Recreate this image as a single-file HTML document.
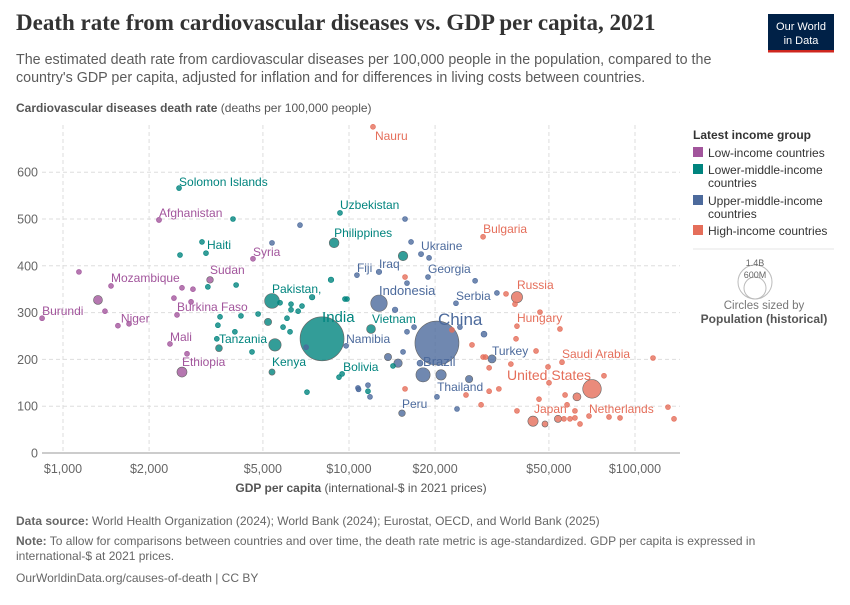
<!DOCTYPE html>
<html><head><meta charset="utf-8"><style>
body{margin:0;background:#fff;font-family:"Liberation Sans",sans-serif}
svg text{font-family:"Liberation Sans",sans-serif}
</style></head><body>
<svg id="c" width="850" height="600" viewBox="0 0 850 600" xmlns="http://www.w3.org/2000/svg">
<text x="16" y="30" font-family="Liberation Serif" font-weight="bold" font-size="23" fill="#333" style="font-family:'Liberation Serif',serif">Death rate from cardiovascular diseases vs. GDP per capita, 2021</text>
<text x="16" y="64" font-size="14.3" fill="#5b5b5b">The estimated death rate from cardiovascular diseases per 100,000 people in the population, compared to the</text>
<text x="16" y="82" font-size="14.3" fill="#5b5b5b">country's GDP per capita, adjusted for inflation and for differences in living costs between countries.</text>
<g>
<rect x="768" y="14" width="66" height="38" fill="#002147"/>
<rect x="768" y="50" width="66" height="2.5" fill="#ce261e"/>
<text x="801" y="30" font-size="11" fill="#fff" text-anchor="middle">Our World</text>
<text x="801" y="44" font-size="11" fill="#fff" text-anchor="middle">in Data</text>
</g>
<text x="16" y="112" font-size="12" fill="#555"><tspan font-weight="bold">Cardiovascular diseases death rate</tspan> (deaths per 100,000 people)</text>
<g id="grid"></g>
<g id="axes"></g>
<g id="pts"></g>
<g id="lbls"></g>
<text x="361" y="492" font-size="12" fill="#555" text-anchor="middle"><tspan font-weight="bold">GDP per capita</tspan> (international-$ in 2021 prices)</text>
<g>
<text x="693" y="139" font-size="12" font-weight="bold" fill="#333">Latest income group</text>
<g><rect x="693" y="147" width="10" height="10" fill="#a2559c"/><text x="708" y="157" font-size="12" fill="#333">Low-income countries</text></g>
<g><rect x="693" y="164" width="10" height="10" fill="#00847e"/><text x="708" y="174" font-size="12" fill="#333">Lower-middle-income</text><text x="708" y="187" font-size="12" fill="#333">countries</text></g>
<g><rect x="693" y="195" width="10" height="10" fill="#4c6a9c"/><text x="708" y="205" font-size="12" fill="#333">Upper-middle-income</text><text x="708" y="218" font-size="12" fill="#333">countries</text></g>
<g><rect x="693" y="225" width="10" height="10" fill="#e56e5a"/><text x="708" y="235" font-size="12" fill="#333">High-income countries</text></g>
<line x1="693" y1="249" x2="834" y2="249" stroke="#e6e6e6"/>
<g>
<circle cx="755" cy="282" r="17" fill="none" stroke="#bbb"/>
<circle cx="755" cy="288" r="11" fill="none" stroke="#bbb"/>
<text x="755" y="266" font-size="9" fill="#666" text-anchor="middle">1.4B</text>
<text x="755" y="278" font-size="9" fill="#666" text-anchor="middle">600M</text>
<text x="764" y="309" font-size="11.5" fill="#777" text-anchor="middle">Circles sized by</text>
<text x="764" y="323" font-size="12" font-weight="bold" fill="#555" text-anchor="middle">Population (historical)</text>
</g>
</g>
<text x="16" y="525" font-size="12" fill="#666"><tspan font-weight="bold">Data source:</tspan> World Health Organization (2024); World Bank (2024); Eurostat, OECD, and World Bank (2025)</text>
<text x="16" y="545" font-size="12" fill="#666"><tspan font-weight="bold">Note:</tspan> To allow for comparisons between countries and over time, the death rate metric is age-standardized. GDP per capita is expressed in</text>
<text x="16" y="560" font-size="12" fill="#666">international-$ at 2021 prices.</text>
<text x="16" y="582" font-size="12" fill="#666">OurWorldinData.org/causes-of-death | CC BY</text>
</svg>
<script>
const xTicks=[1000,2000,5000,10000,20000,50000,100000];
const xTickLabels=["$1,000","$2,000","$5,000","$10,000","$20,000","$50,000","$100,000"];
const yTicks=[0,100,200,300,400,500,600];
const names=["Burundi","Mozambique","Afghanistan","Niger","","","","Sudan","Mali","Ethiopia","Burkina Faso","Syria","","","","","","",
"Solomon Islands","","Haiti","","","Uzbekistan","Philippines","","Pakistan","","India","Tanzania","","Kenya","","","","","","","","","","","","","","","","","","","","Bolivia","","Vietnam","","","","","",
"China","Indonesia","Brazil","","","","Turkey","Thailand","","Peru","Iraq","Fiji","Ukraine","","","","","","Georgia","","","","Serbia","","","","","","","","Namibia","","","","","","",
"Nauru","Bulgaria","Russia","","","","Hungary","","","","Saudi Arabia","","","","United States","","","","","","Japan","","","","","","","","Netherlands","","","","","","","","","","","","","","","",""];
const gdp=[845,1472,2166,1556,1325,1137,1402,3266,2366,2606,2504,4616,2443,2606,2847,2804,1702,2714,
2545,3930,3162,3062,2565,9300,8870,8650,5380,7430,8050,3510,5510,5380,4030,3210,5210,4810,6070,6270,6270,6640,6850,5740,5880,6220,4580,3990,3450,3540,3480,4190,7130,9460,9227,11940,15450,14250,11650,9680,9840,
20300,12730,18150,20980,14840,13690,31620,26300,20300,15320,12730,10660,17860,19050,16480,15700,6740,5380,18890,15950,27600,32900,23660,14490,16880,15950,24430,29650,15450,17710,9770,10750,10800,11840,11650,23860,7080,
12130,29430,38660,35400,38050,46530,38660,54650,38370,45080,55560,115600,49640,77900,70740,62660,50040,56950,46170,57860,43990,48450,53790,56460,59240,61660,64230,61660,69050,81120,88640,130400,136900,38660,28960,25650,30900,33420,15700,30900,29430,30000,26920,36810,22910,15700];
const rate=[288,357,498,272,327,387,303,370,233,173,295,415,331,353,350,323,276,212,
566,500,427,451,423,513,449,370,325,333,244,224,231,173,359,355,280,297,288,318,306,303,314,321,269,259,216,259,244,291,273,293,130,169,162,265,421,186,132,329,329,
235,320,167,167,192,205,201,158,120,85,387,380,425,417,451,500,487,449,376,363,368,342,320,306,269,259,269,254,216,192,229,139,136,120,145,94,226,
697,462,333,340,318,301,271,265,244,218,194,203,184,165,137,120,150,124,115,103,68,62,73,73,73,75,62,90,79,77,75,98,73,90,103,124,132,137,137,182,205,205,231,190,263,376];
const pop=[12,32,40,25,100,10,15,60,22,120,22,21,8,8,8,8,8,8,
1,5,11,5,5,35,115,45,230,45,1410,64,170,54,8,8,70,30,30,8,8,8,8,8,8,8,8,8,8,8,8,8,8,12,8,98,110,8,8,8,8,
1410,275,214,127,90,70,85,72,8,60,44,1,40,8,8,8,8,8,4,8,8,8,7,45,8,8,8,50,8,50,3,8,8,8,8,8,8,
1,7,145,8,8,8,10,8,8,8,36,8,8,8,335,83,8,8,8,8,125,52,68,8,8,8,8,8,18,8,8,8,8,8,8,8,8,8,8,8,8,8,8,8,8,8];
const groupCounts=[["L",18],["M",41],["U",37],["H",46]];
const groups=[];
groupCounts.forEach(([g,n])=>{for(let k=0;k<n;k++)groups.push(g);});
const colors={L:"#a2559c",M:"#00847e",U:"#4c6a9c",H:"#e56e5a"};
const labelLayout={"Solomon Islands":[0,-2],"Afghanistan":[0,-3],"Haiti":[1,-4],"Syria":[0,-3],"Sudan":[0,-6],"Mozambique":[0,-4],"Burundi":[0,-3],"Niger":[3,-3],"Burkina Faso":[0,-4],"Mali":[0,-3],"Ethiopia":[0,-6],"Uzbekistan":[0,-4],"Philippines":[0,-6],"Pakistan":[0,-8,12,"Pakistan,"],"India":[0,-17,15],"Tanzania":[0,-5],"Kenya":[0,-6],"Vietnam":[1,-6],"Bolivia":[1,-3],"Namibia":[0,-3],"Fiji":[0,-3],"Iraq":[0,-4],"Ukraine":[0,-4],"Georgia":[0,-4],"Indonesia":[0,-8,13],"Serbia":[0,-3],"China":[1,-18,17],"Brazil":[0,-9,13],"Turkey":[0,-4],"Thailand":[-32,12],"Peru":[0,-5],"Nauru":[2,13],"Bulgaria":[0,-4],"Russia":[0,-8],"Hungary":[0,-4],"Saudi Arabia":[0,-4],"United States":[-85,-9,14],"Japan":[1,-8],"Netherlands":[0,-3]};
const X0=42,X1=680,Y0=453;
const xs=v=>63+286*Math.log10(v/1000);
const ys=v=>Y0-v*0.468;
const rs=p=>Math.max(2.5,22*Math.pow(p/1410,0.6));
const NS="http://www.w3.org/2000/svg";
function mk(tag,attrs,parent){const e=document.createElementNS(NS,tag);for(const k in attrs)e.setAttribute(k,attrs[k]);parent.appendChild(e);return e;}
const grid=document.getElementById('grid'),axes=document.getElementById('axes'),pts=document.getElementById('pts'),lbls=document.getElementById('lbls');
xTicks.forEach((t,i)=>{
  const l=mk('line',{x1:xs(t),x2:xs(t),y1:125,y2:Y0,stroke:"#ddd","stroke-dasharray":"4,3"},grid);
  
  
  const tx=mk('text',{x:xs(t),y:473,"font-size":12.5,fill:"#666","text-anchor":"middle"},axes);
  tx.textContent=xTickLabels[i];
  
  
});
yTicks.forEach(t=>{
  if(t>0){const l=mk('line',{x1:X0,x2:X1,y1:ys(t),y2:ys(t),stroke:"#ddd","stroke-dasharray":"4,3"},grid);
  
  }
  const tx=mk('text',{x:38,y:ys(t)+4.5,"font-size":12.5,fill:"#666","text-anchor":"end"},axes);
  tx.textContent=t;
  
  
});
const ax=mk('line',{x1:X0,x2:X1,y1:Y0,y2:Y0,stroke:"#999"},axes);


const order=gdp.map((_,i)=>i).sort((a,b)=>pop[b]-pop[a]);
order.forEach(i=>{
  const c=mk('circle',{cx:xs(gdp[i]),cy:ys(rate[i]),r:rs(pop[i]),fill:colors[groups[i]],"fill-opacity":0.8,stroke:colors[groups[i]],"stroke-width":0.6},pts);
  if(pop[i]>50)c.setAttribute('stroke','#666');
  
  
});
names.forEach((n,i)=>{
  if(!n||!labelLayout[n])return;
  const L=labelLayout[n];
  const t=mk('text',{x:xs(gdp[i])+L[0],y:ys(rate[i])+L[1],"font-size":L[2]||12,fill:colors[groups[i]]},lbls);
  t.textContent=L[3]||n;
  
  
});
</script>
</body></html>
